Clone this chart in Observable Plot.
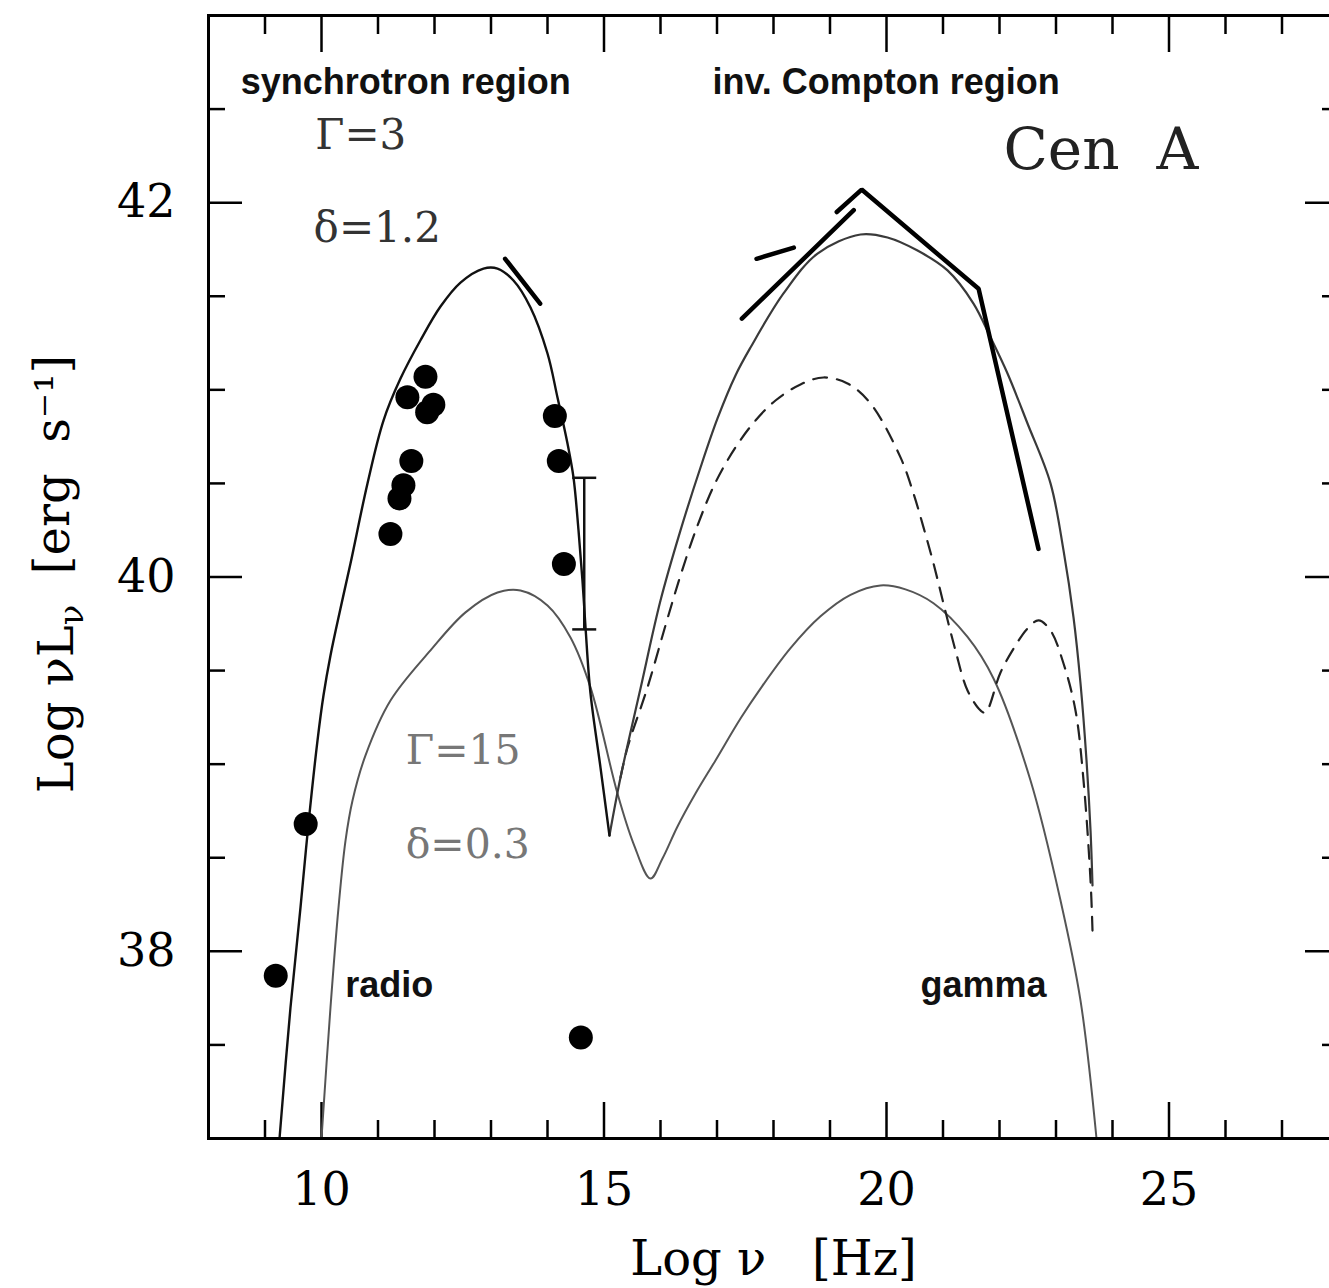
<!DOCTYPE html>
<html><head><meta charset="utf-8">
<script src="https://cdn.jsdelivr.net/npm/d3@7"></script>
<script src="https://cdn.jsdelivr.net/npm/@observablehq/plot@0.6"></script>
<style>html,body{margin:0;padding:0;background:#fff;overflow:hidden;} #chart{width:1345px;}</style>
</head><body><div id="chart"></div>
<script>
// ---- data (log nu [Hz], log nuLnu [erg/s]) ----
const g3SyncX = [9.257, 9.451, 9.628, 9.770, 9.929, 10.035, 10.159, 10.336, 10.513, 10.814, 11.097, 11.398, 11.752, 12.106, 12.460, 12.867, 13.115, 13.398, 13.699, 14.000, 14.177, 14.354, 14.460, 14.549, 14.619, 14.673, 14.761, 14.938, 15.097];
const g3SyncY = [37.000, 37.700, 38.234, 38.683, 39.126, 39.367, 39.581, 39.832, 40.072, 40.500, 40.836, 41.060, 41.265, 41.445, 41.573, 41.648, 41.648, 41.584, 41.440, 41.194, 40.959, 40.713, 40.532, 40.249, 39.981, 39.730, 39.378, 38.982, 38.619];
const g3ComptonX = [15.097, 15.292, 15.646, 16.000, 16.354, 16.708, 17.009, 17.327, 17.593, 18.177, 18.779, 19.540, 20.018, 20.549, 21.080, 21.540, 21.841, 22.142, 22.496, 22.903, 23.133, 23.310, 23.434, 23.540, 23.611, 23.646];
const g3ComptonY = [38.619, 38.929, 39.404, 39.874, 40.249, 40.585, 40.847, 41.077, 41.226, 41.515, 41.728, 41.830, 41.814, 41.744, 41.638, 41.461, 41.280, 41.087, 40.820, 40.500, 40.142, 39.784, 39.431, 39.020, 38.646, 38.352];
const dashedX = [15.292, 15.416, 15.770, 16.088, 16.354, 16.655, 16.973, 17.327, 17.681, 18.035, 18.478, 18.885, 19.310, 19.717, 20.248, 20.478, 20.655, 20.832, 21.009, 21.221, 21.434, 21.664, 21.752, 22.018, 22.283, 22.496, 22.690, 22.903, 23.133, 23.345, 23.487, 23.611, 23.646];
const dashedY = [38.929, 39.089, 39.410, 39.741, 40.008, 40.275, 40.505, 40.692, 40.836, 40.943, 41.029, 41.066, 41.034, 40.927, 40.639, 40.446, 40.265, 40.072, 39.858, 39.607, 39.394, 39.287, 39.276, 39.490, 39.634, 39.725, 39.768, 39.714, 39.538, 39.287, 38.913, 38.379, 38.111];
const g15X = [10.000, 10.159, 10.301, 10.425, 10.549, 10.779, 11.221, 11.929, 12.549, 13.115, 13.522, 14.000, 14.407, 14.761, 15.239, 15.522, 15.823, 16.035, 16.301, 16.619, 16.973, 17.416, 17.770, 18.301, 18.832, 19.363, 19.894, 20.336, 20.832, 21.434, 21.894, 22.549, 23.080, 23.434, 23.717];
const g15Y = [37.000, 37.700, 38.234, 38.592, 38.806, 39.047, 39.340, 39.608, 39.811, 39.917, 39.928, 39.848, 39.677, 39.410, 38.843, 38.576, 38.389, 38.496, 38.667, 38.843, 39.020, 39.244, 39.404, 39.620, 39.790, 39.905, 39.955, 39.934, 39.860, 39.680, 39.458, 38.913, 38.272, 37.737, 37.000];
const obsX = [9.19, 9.72, 11.22, 11.38, 11.45, 11.59, 11.52, 11.84, 11.87, 11.98, 14.13, 14.20, 14.29, 14.59];
const obsY = [37.87, 38.68, 40.23, 40.42, 40.49, 40.62, 40.96, 41.07, 40.88, 40.92, 40.86, 40.62, 40.07, 37.54];
const slopeId = ["a", "a", "b", "b", "c", "c", "d", "d", "d", "d"];
const slopeX = [13.25, 13.87, 17.44, 19.42, 17.70, 18.36, 19.12, 19.56, 21.63, 22.69];
const slopeY = [41.70, 41.46, 41.38, 41.96, 41.70, 41.76, 41.95, 42.07, 41.54, 40.15];
const errX = [14.65], errLo = [39.72], errHi = [40.53];

// ---- axes ----
const xMajorTicks = [10, 15, 20, 25];
const xMinorTicks = [9, 11, 12, 13, 14, 16, 17, 18, 19, 21, 22, 23, 24, 26, 27];
const yMajorTicks = [38, 40, 42];
const yMinorTicks = [37.5, 38.5, 39, 39.5, 40.5, 41, 41.5, 42.5];
const xLabel = "Log\u00a0ν\u00a0\u00a0\u00a0[Hz]";
const yLabel = "Log\u00a0νLν\u00a0\u00a0[erg\u00a0\u00a0s⁻¹]";

// ---- annotations ----
const regionText = ["synchrotron region", "inv. Compton region", "radio", "gamma"];
const regionX = [8.57, 16.92, 10.42, 20.60];
const regionY = [42.64, 42.64, 37.82, 37.82];
const g3Text = ["Γ=3", "δ=1.2"];
const g3TX = [9.89, 9.86];
const g3TY = [42.36, 41.86];
const g15Text = ["Γ=15", "δ=0.3"];
const g15TX = [11.49, 11.49];
const g15TY = [39.07, 38.57];
const sourceText = ["Cen\u00a0\u00a0A"];
const sourceX = [22.07], sourceY = [42.28];

const rows = (xs, ys) => xs.map((x, i) => ({x, y: ys[i]}));
const capSymbol = {draw(ctx, size) { const w = Math.sqrt(size / Math.PI); ctx.moveTo(-w, 0); ctx.lineTo(w, 0); }};
const serif = "'DejaVu Serif', serif";
const sans = "'Liberation Sans', Arial, sans-serif";
const intFmt = d => String(d);

const tickAxes = [];
for (const a of ["bottom", "top"]) {
  tickAxes.push(Plot.axisX({anchor: a, ticks: xMinorTicks, tickSize: -18, tickFormat: () => "", label: null, strokeWidth: 2.5}));
  tickAxes.push(Plot.axisX({anchor: a, ticks: xMajorTicks, tickSize: -36, tickFormat: () => "", label: null, strokeWidth: 2.5}));
}
for (const a of ["left", "right"]) {
  tickAxes.push(Plot.axisY({anchor: a, ticks: yMinorTicks, tickSize: -17, tickFormat: () => "", label: null, strokeWidth: 2.5}));
  tickAxes.push(Plot.axisY({anchor: a, ticks: yMajorTicks, tickSize: -34, tickFormat: () => "", label: null, strokeWidth: 2.5}));
}

const chart = Plot.plot({
  width: 1345, height: 1288,
  marginLeft: 208, marginRight: 7, marginTop: 15, marginBottom: 150,
  x: {domain: [8, 28]},
  y: {domain: [37, 43]},
  style: {fontFamily: serif, background: "white", color: "black"},
  marks: [
    ...tickAxes,
    Plot.axisX({anchor: "bottom", ticks: xMajorTicks, tickFormat: intFmt, tickSize: 0, tickPadding: 34, fontSize: 46, label: null, fontFamily: serif}),
    Plot.axisY({anchor: "left", ticks: yMajorTicks, tickFormat: intFmt, tickSize: 0, tickPadding: 33, fontSize: 46, label: null, fontFamily: serif}),
    Plot.text([xLabel], {frameAnchor: "bottom", textAnchor: "middle", lineAnchor: "middle", dy: 121, fontSize: 48, fontFamily: serif, fill: "black"}),
    Plot.text([yLabel], {frameAnchor: "left", textAnchor: "middle", lineAnchor: "middle", dx: -151, dy: -3, rotate: -90, fontSize: 48, fontFamily: serif, fill: "black"}),
    Plot.line(rows(g15X, g15Y), {x: "x", y: "y", curve: "catmull-rom", stroke: "#555", strokeWidth: 2}),
    Plot.line(rows(dashedX, dashedY), {x: "x", y: "y", curve: "catmull-rom", stroke: "#222", strokeWidth: 2.2, strokeDasharray: "14,10"}),
    Plot.line(rows(g3ComptonX, g3ComptonY), {x: "x", y: "y", curve: "catmull-rom", stroke: "#3a3a3a", strokeWidth: 2.2}),
    Plot.line(rows(g3SyncX, g3SyncY), {x: "x", y: "y", curve: "catmull-rom", stroke: "#111", strokeWidth: 2.4}),
    Plot.line(slopeX.map((x, i) => ({x, y: slopeY[i], id: slopeId[i]})), {x: "x", y: "y", z: "id", stroke: "black", strokeWidth: 4.5, strokeLinejoin: "miter"}),
    Plot.ruleX(errX.map((x, i) => ({x, lo: errLo[i], hi: errHi[i]})), {x: "x", y1: "lo", y2: "hi", stroke: "#111", strokeWidth: 2.5}),
    Plot.dot(errX.flatMap((x, i) => [{x, y: errLo[i]}, {x, y: errHi[i]}]), {x: "x", y: "y", r: 12, symbol: capSymbol, stroke: "#111", strokeWidth: 2.5, fill: "none"}),
    Plot.dot(rows(obsX, obsY), {x: "x", y: "y", r: 12, fill: "black", stroke: "none"}),
    Plot.text(regionText.map((t, i) => ({t, x: regionX[i], y: regionY[i]})), {x: "x", y: "y", text: "t", textAnchor: "start", fontSize: 36, fontWeight: "bold", fontFamily: sans, fill: "#111"}),
    Plot.text(g3Text.map((t, i) => ({t, x: g3TX[i], y: g3TY[i]})), {x: "x", y: "y", text: "t", textAnchor: "start", fontSize: 42, fontFamily: serif, fill: "#333"}),
    Plot.text(g15Text.map((t, i) => ({t, x: g15TX[i], y: g15TY[i]})), {x: "x", y: "y", text: "t", textAnchor: "start", fontSize: 41, fontFamily: serif, fill: "#777"}),
    Plot.text(sourceText.map((t, i) => ({t, x: sourceX[i], y: sourceY[i]})), {x: "x", y: "y", text: "t", textAnchor: "start", fontSize: 58, fontFamily: serif, fill: "#222"}),
    Plot.frame({stroke: "black", strokeWidth: 3})
  ]
});
document.getElementById("chart").append(chart);

// subscript nu in the y label
const NS = "http://www.w3.org/2000/svg";
const yl = Array.from(chart.querySelectorAll("text")).find(t => t.textContent === yLabel);
if (yl) {
  yl.textContent = "";
  yl.append(document.createTextNode("Log\u00a0νL"));
  const sub = document.createElementNS(NS, "tspan");
  sub.setAttribute("dy", "0.3em"); sub.setAttribute("font-size", "34");
  sub.textContent = "ν";
  const rest = document.createElementNS(NS, "tspan");
  rest.setAttribute("dy", "-0.3em"); rest.setAttribute("font-size", "48");
  rest.textContent = "\u00a0\u00a0[erg\u00a0\u00a0s⁻¹]";
  yl.append(sub, rest);
}
</script>
</body></html>
